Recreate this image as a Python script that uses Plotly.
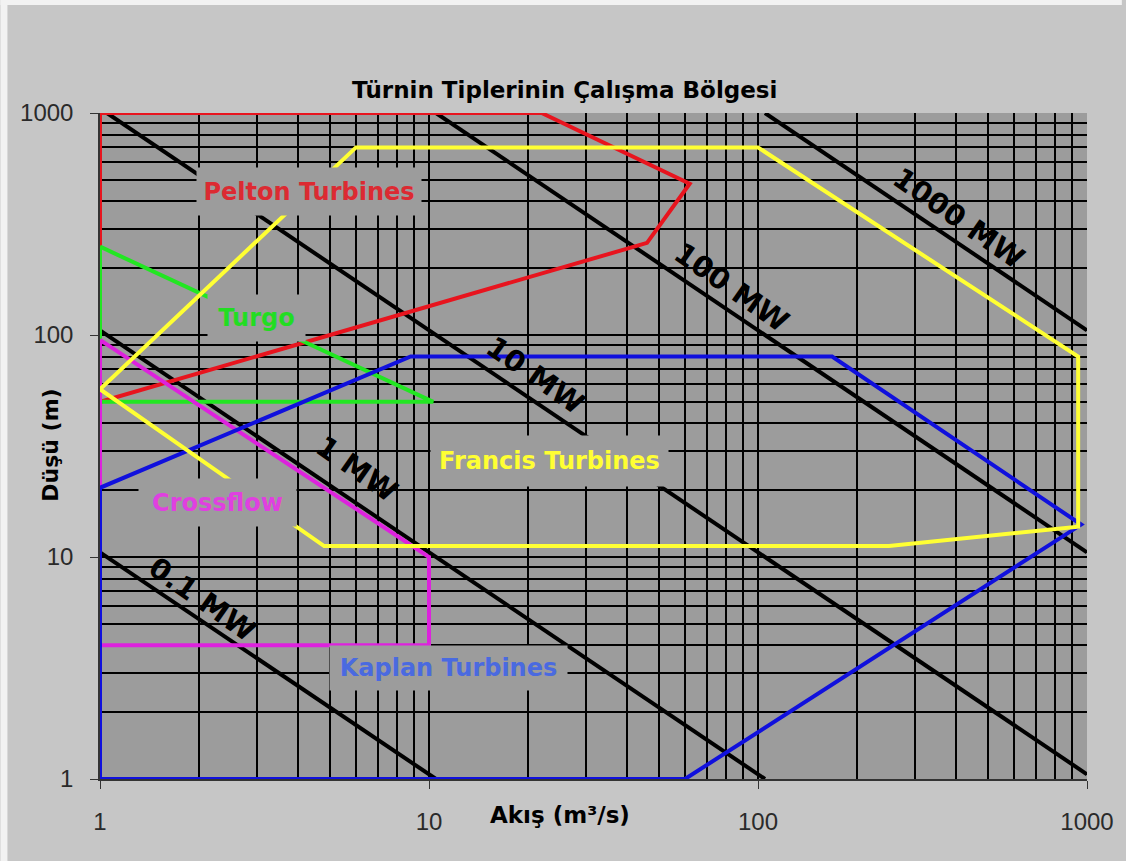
import numpy as np
import plotly.graph_objects as go

# Operating envelopes of turbine types: flow Q (m3/s) vs head H (m)
pelton_q = [1, 22, 62, 46, 1, 1]
pelton_h = [1000, 1000, 480, 260, 50, 1000]

turgo_q = [1, 10.3, 1, 1]
turgo_h = [250, 50, 50, 250]

crossflow_q = [1, 10, 10, 1, 1]
crossflow_h = [95, 10, 4, 4, 95]

kaplan_q = [1, 8.8, 168, 960, 60, 1, 1]
kaplan_h = [20.5, 80, 80, 14, 1, 1, 20.5]

francis_q = [1, 6, 100, 940, 940, 250, 4.8, 1]
francis_h = [57, 700, 700, 80, 13.7, 11.2, 11.2, 57]

# Constant-power lines (end points inside the plotted range)
mw_labels = ["0.1 MW", "1 MW", "10 MW", "100 MW", "1000 MW"]
mw_q_start = [1, 1, 1.05, 10.5, 105]
mw_h_start = [10.5, 105, 1000, 1000, 1000]
mw_q_end = [10.5, 105, 1000, 1000, 1000]
mw_h_end = [1, 1, 1.05, 10.5, 105]
mw_label_q = [2.04, 6.04, 21.0, 83.0, 407]
mw_label_h = [6.44, 24.8, 66.2, 165, 337]

# Turbine region labels
region_names = ["Pelton Turbines", "Turgo", "Crossflow", "Francis Turbines", "Kaplan Turbines"]
region_label_q = [4.32, 2.99, 2.28, 23.2, 11.5]
region_label_h = [441, 119.6, 17.6, 27.2, 3.16]
region_box_w = [222, 95, 155, 235, 235]
region_box_h = [45, 44, 45, 48, 42]
region_text_colors = ["#dc2a32", "#22dd22", "#e040e0", "#ffff33", "#4a6ae0"]

tick_vals = [1, 10, 100, 1000]
tick_text = ["1", "10", "100", "1000"]
minor_vals = [m * 10 ** d for d in range(3) for m in range(2, 10)]

PLOT_BG = "#9c9c9c"
PAPER_BG = "#c6c6c6"
BOLD = "DejaVu Sans"

fig = go.Figure()

# power lines
for qs, hs, qe, he in zip(mw_q_start, mw_h_start, mw_q_end, mw_h_end):
    fig.add_trace(go.Scatter(x=[qs, qe], y=[hs, he], mode="lines",
                             line=dict(color="black", width=4),
                             hoverinfo="skip"))

# turbine envelopes
envelopes = [
    (pelton_q, pelton_h, "#e8141e"),
    (turgo_q, turgo_h, "#22e622"),
    (crossflow_q, crossflow_h, "#dd22dd"),
    (kaplan_q, kaplan_h, "#1010dd"),
    (francis_q, francis_h, "#ffff33"),
]
for q, h, c in envelopes:
    fig.add_trace(go.Scatter(x=q, y=h, mode="lines",
                             line=dict(color=c, width=4),
                             hoverinfo="skip"))

annotations = []
for name, q, h, w, bh, col in zip(region_names, region_label_q, region_label_h,
                                  region_box_w, region_box_h, region_text_colors):
    annotations.append(dict(
        x=np.log10(q), y=np.log10(h), xref="x", yref="y",
        text=name, showarrow=False, width=w, height=bh,
        bgcolor=PLOT_BG, align="center", valign="middle",
        font=dict(family=BOLD, size=24, color=col, weight="bold")))

for name, q, h in zip(mw_labels, mw_label_q, mw_label_h):
    annotations.append(dict(
        x=np.log10(q), y=np.log10(h), xref="x", yref="y",
        text=name, showarrow=False, textangle=35,
        font=dict(family=BOLD, size=29, color="black", weight="bold")))

# chart title and axis titles
annotations += [
    dict(x=0.471, y=1.057, xref="paper", yref="paper", showarrow=False,
         text="Türnin Tiplerinin Çalışma Bölgesi",
         font=dict(family=BOLD, size=23, color="black", weight="bold")),
    dict(x=-0.0656, y=0.5015, xref="paper", yref="paper", showarrow=False,
         text="Düşü (m)", textangle=-90,
         font=dict(family=BOLD, size=22, color="black", weight="bold")),
    dict(x=0.466, y=-0.0766, xref="paper", yref="paper", showarrow=False,
         text="Akış (m³/s)",
         font=dict(family=BOLD, size=23, color="black", weight="bold")),
]

axis_common = dict(
    type="log", range=[0, 3], tickmode="array", tickvals=tick_vals,
    ticktext=tick_text, showgrid=True, gridcolor="black", gridwidth=2,
    zeroline=False, showline=True, linecolor="#333333", linewidth=1.5,
    ticks="outside", ticklen=8, tickwidth=1, tickcolor="#333333",
    tickfont=dict(family="Liberation Sans", size=24, color="#2a2a2a"),
    minor=dict(tickmode="array", tickvals=minor_vals, showgrid=True,
               gridcolor="black", gridwidth=2, ticks=""),
)

fig.update_layout(
    width=1126, height=861,
    margin=dict(l=100, r=35, t=113, b=82),
    paper_bgcolor=PAPER_BG, plot_bgcolor=PLOT_BG,
    showlegend=False, hovermode=False,
    xaxis=dict(axis_common, ticklabelstandoff=12),
    yaxis=dict(axis_common, ticklabelstandoff=12),
    annotations=annotations,
    shapes=[
        dict(type="rect", xref="paper", yref="paper", layer="above",
             x0=-0.1009, x1=-0.0938, y0=-0.1231, y1=1.1697,
             fillcolor="#f2f2f2", line=dict(width=0)),
        dict(type="rect", xref="paper", yref="paper", layer="above",
             x0=-0.1009, x1=1.0353, y0=1.1622, y1=1.1697,
             fillcolor="#f2f2f2", line=dict(width=0)),
    ],
)

fig.write_html("out.html")
